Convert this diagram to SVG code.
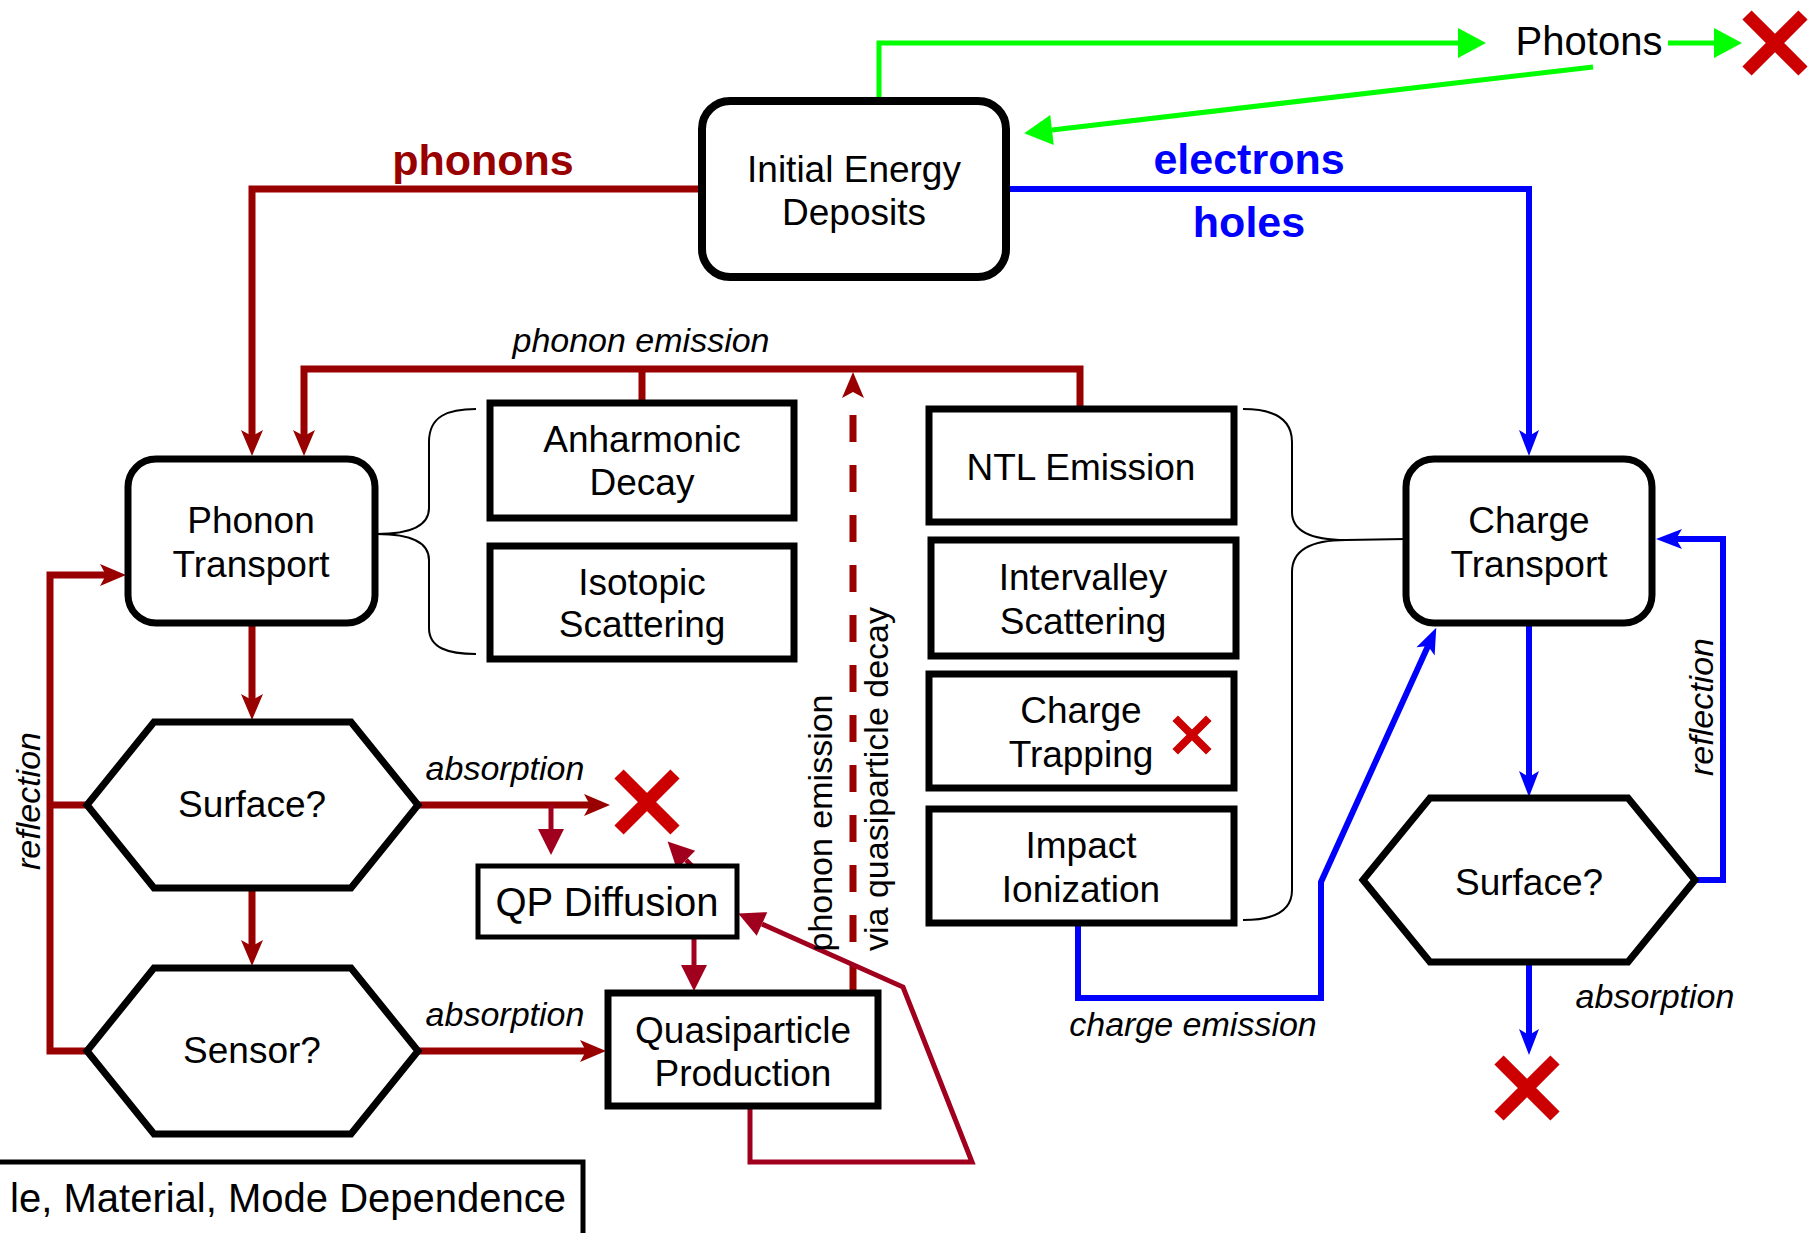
<svg xmlns="http://www.w3.org/2000/svg" width="1820" height="1233" viewBox="0 0 1820 1233">
  <style>
    text { font-family: "Liberation Sans", Arial, sans-serif; fill: #000; }
    .lbl { font-size: 37px; text-anchor: middle; }
    .big { font-size: 40px; text-anchor: middle; }
    .it { font-size: 34px; font-style: italic; text-anchor: middle; }
    .vt { font-size: 34px; text-anchor: middle; }
    .head { font-size: 43px; font-weight: bold; text-anchor: middle; }
    .rbox { fill: #fff; stroke: #000; stroke-width: 8; }
    .box { fill: #fff; stroke: #000; stroke-width: 7; }
    .hex { fill: #fff; stroke: #000; stroke-width: 7; stroke-linejoin: miter; }
    .ph { fill: none; stroke: #990000; stroke-width: 7; }
    .qp { fill: none; stroke: #A0001E; stroke-width: 5; }
    .bl { fill: none; stroke: #0000FF; stroke-width: 6; }
    .gr { fill: none; stroke: #00FF00; stroke-width: 5; }
    .brace { fill: none; stroke: #000; stroke-width: 2; }
  </style>
  <defs>
    <marker id="aRed" markerUnits="userSpaceOnUse" viewBox="-8 -13 32 26" refX="0" refY="0" markerWidth="32" markerHeight="26" orient="auto">
      <path d="M20,0 L-6,-11 L0,0 L-6,11 Z" fill="#990000"/>
    </marker>
    <marker id="aBlue" markerUnits="userSpaceOnUse" viewBox="-8 -13 32 26" refX="0" refY="0" markerWidth="32" markerHeight="26" orient="auto">
      <path d="M20,0 L-6,-10 L0,0 L-6,10 Z" fill="#0000FF"/>
    </marker>
    <marker id="aQp" markerUnits="userSpaceOnUse" viewBox="-2 -15 32 30" refX="0" refY="0" markerWidth="32" markerHeight="30" orient="auto">
      <path d="M0,-13 L26,0 L0,13 Z" fill="#A0001E"/>
    </marker>
    <marker id="aGreen" markerUnits="userSpaceOnUse" viewBox="-2 -17 34 34" refX="0" refY="0" markerWidth="34" markerHeight="34" orient="auto">
      <path d="M0,-15 L28,0 L0,15 Z" fill="#00FF00"/>
    </marker>
    <path id="xmark" d="M-28,-28 L28,28 M28,-28 L-28,28" fill="none" stroke="#CC0000" stroke-width="13"/>
  </defs>

  <!-- connectors -->
  <g id="connectors">
    <!-- photon branch -->
    <path class="gr" d="M879,100 V43 H1458" marker-end="url(#aGreen)"/>
    <path class="gr" d="M1668,43 H1714" marker-end="url(#aGreen)"/>
    <path class="gr" d="M1593,67 L1052,130" marker-end="url(#aGreen)"/>

    <!-- phonon branch -->
    <path class="ph" d="M701,189 H252 V436" marker-end="url(#aRed)"/>
    <path class="ph" d="M1080,409 V369 H304 V436" marker-end="url(#aRed)"/>
    <path class="ph" d="M642,403 V369"/>
    <path class="ph" d="M853,992 V392" stroke-width="8" stroke-dasharray="27 23" marker-end="url(#aRed)"/>
    <path class="ph" d="M252,623 V700" marker-end="url(#aRed)"/>
    <path class="ph" d="M252,888 V946" marker-end="url(#aRed)"/>
    <path class="ph" d="M87,805 H50"/>
    <path class="ph" d="M87,1051 H50 V575 H106" marker-end="url(#aRed)"/>
    <path class="ph" d="M418,805 H590" marker-end="url(#aRed)"/>
    <path class="ph" d="M418,1051 H586" marker-end="url(#aRed)"/>

    <!-- quasiparticle branch -->
    <path class="qp" d="M551,805 V829" marker-end="url(#aQp)"/>
    <path class="qp" d="M694,938 V965" marker-end="url(#aQp)"/>
    <path class="qp" d="M697,871 L686,860" marker-end="url(#aQp)"/>
    <path class="qp" d="M750,1107 V1162 H972 L903,987 L762,924" marker-end="url(#aQp)"/>

    <!-- charge branch -->
    <path class="bl" d="M1005,189 H1529 V436" marker-end="url(#aBlue)"/>
    <path class="bl" d="M1529,623 V777" marker-end="url(#aBlue)"/>
    <path class="bl" d="M1695,880 H1723 V539 H1676" marker-end="url(#aBlue)"/>
    <path class="bl" d="M1529,962 V1035" marker-end="url(#aBlue)"/>
    <path class="bl" d="M1078,923 V998 H1321 V882 L1428,646" marker-end="url(#aBlue)"/>

    <!-- process braces -->
    <path class="brace" d="M476,409 C448,409 429,416 429,442 V508 C429,526 410,534 377,534 C410,534 429,542 429,560 V628 C429,648 448,654 476,654"/>
    <path class="brace" d="M1243,409 C1272,409 1292,418 1292,442 V512 C1292,532 1312,540 1346,540 L1406,539 M1346,540 C1312,540 1292,550 1292,572 V890 C1292,912 1272,920 1243,920"/>
  </g>

  <!-- connector labels -->
  <g id="labels">
    <text class="head" x="483" y="175" fill="#990000" style="fill:#990000">phonons</text>
    <text class="head" x="1249" y="174" style="fill:#0000FF">electrons</text>
    <text class="head" x="1249" y="237" style="fill:#0000FF">holes</text>
    <text class="it" x="641" y="352">phonon emission</text>
    <text class="it" x="505" y="780">absorption</text>
    <text class="it" x="505" y="1026">absorption</text>
    <text class="it" x="1655" y="1008">absorption</text>
    <text class="it" x="1193" y="1036">charge emission</text>
    <text class="it" transform="translate(40,801) rotate(-90)">reflection</text>
    <text class="it" transform="translate(1713,707) rotate(-90)">reflection</text>
    <text class="vt" transform="translate(832,823) rotate(-90)">phonon emission</text>
    <text class="vt" transform="translate(888,779) rotate(-90)">via quasiparticle decay</text>
  </g>

  <!-- nodes -->
  <g id="initial-energy-deposits">
    <rect class="rbox" x="702" y="101" width="304" height="176" rx="28"/>
    <text class="lbl" x="854" y="182">Initial Energy</text>
    <text class="lbl" x="854" y="225">Deposits</text>
  </g>

  <g id="photons">
    <text class="big" x="1589" y="55">Photons</text>
    <use href="#xmark" transform="translate(1775,43)"/>
  </g>

  <g id="phonon-transport">
    <rect class="box" x="128" y="459" width="247" height="164" rx="28"/>
    <text class="lbl" x="251" y="533">Phonon</text>
    <text class="lbl" x="251" y="577">Transport</text>
  </g>

  <g id="anharmonic-decay">
    <rect class="box" x="490" y="403" width="304" height="115"/>
    <text class="lbl" x="642" y="452">Anharmonic</text>
    <text class="lbl" x="642" y="495">Decay</text>
  </g>

  <g id="isotopic-scattering">
    <rect class="box" x="490" y="546" width="304" height="113"/>
    <text class="lbl" x="642" y="595">Isotopic</text>
    <text class="lbl" x="642" y="637">Scattering</text>
  </g>

  <g id="ntl-emission">
    <rect class="box" x="929" y="409" width="305" height="113"/>
    <text class="lbl" x="1081" y="480">NTL Emission</text>
  </g>

  <g id="intervalley-scattering">
    <rect class="box" x="931" y="540" width="305" height="116"/>
    <text class="lbl" x="1083" y="590">Intervalley</text>
    <text class="lbl" x="1083" y="634">Scattering</text>
  </g>

  <g id="charge-trapping">
    <rect class="box" x="929" y="674" width="305" height="114"/>
    <text class="lbl" x="1081" y="723">Charge</text>
    <text class="lbl" x="1081" y="767">Trapping</text>
    <use href="#xmark" transform="translate(1192,735) scale(0.6)"/>
  </g>

  <g id="impact-ionization">
    <rect class="box" x="929" y="809" width="305" height="114"/>
    <text class="lbl" x="1081" y="858">Impact</text>
    <text class="lbl" x="1081" y="902">Ionization</text>
  </g>

  <g id="charge-transport">
    <rect class="box" x="1406" y="459" width="246" height="164" rx="28"/>
    <text class="lbl" x="1529" y="533">Charge</text>
    <text class="lbl" x="1529" y="577">Transport</text>
  </g>

  <g id="surface-phonon">
    <polygon class="hex" points="87,805 154,722 351,722 418,805 351,888 154,888"/>
    <text class="lbl" x="252" y="817">Surface?</text>
  </g>

  <g id="sensor">
    <polygon class="hex" points="87,1051 154,968 351,968 418,1051 351,1134 154,1134"/>
    <text class="lbl" x="252" y="1063">Sensor?</text>
  </g>

  <g id="surface-charge">
    <polygon class="hex" points="1363,880 1430,798 1628,798 1695,880 1628,962 1430,962"/>
    <text class="lbl" x="1529" y="895">Surface?</text>
  </g>

  <g id="surface-absorption">
    <use href="#xmark" transform="translate(647,802)"/>
  </g>

  <g id="charge-absorption">
    <use href="#xmark" transform="translate(1527,1088)"/>
  </g>

  <g id="qp-diffusion">
    <rect x="478" y="866" width="259" height="71" fill="#fff" stroke="#000" stroke-width="5"/>
    <text class="big" x="607" y="916">QP Diffusion</text>
  </g>

  <g id="quasiparticle-production">
    <rect class="box" x="608" y="993" width="270" height="113"/>
    <text class="lbl" x="743" y="1043">Quasiparticle</text>
    <text class="lbl" x="743" y="1086">Production</text>
  </g>

  <g id="dependence">
    <rect x="-10" y="1162" width="593" height="80" fill="#fff" stroke="#000" stroke-width="5"/>
    <text class="big" x="566" y="1212" style="text-anchor:end">le, Material, Mode Dependence</text>
  </g>
</svg>
